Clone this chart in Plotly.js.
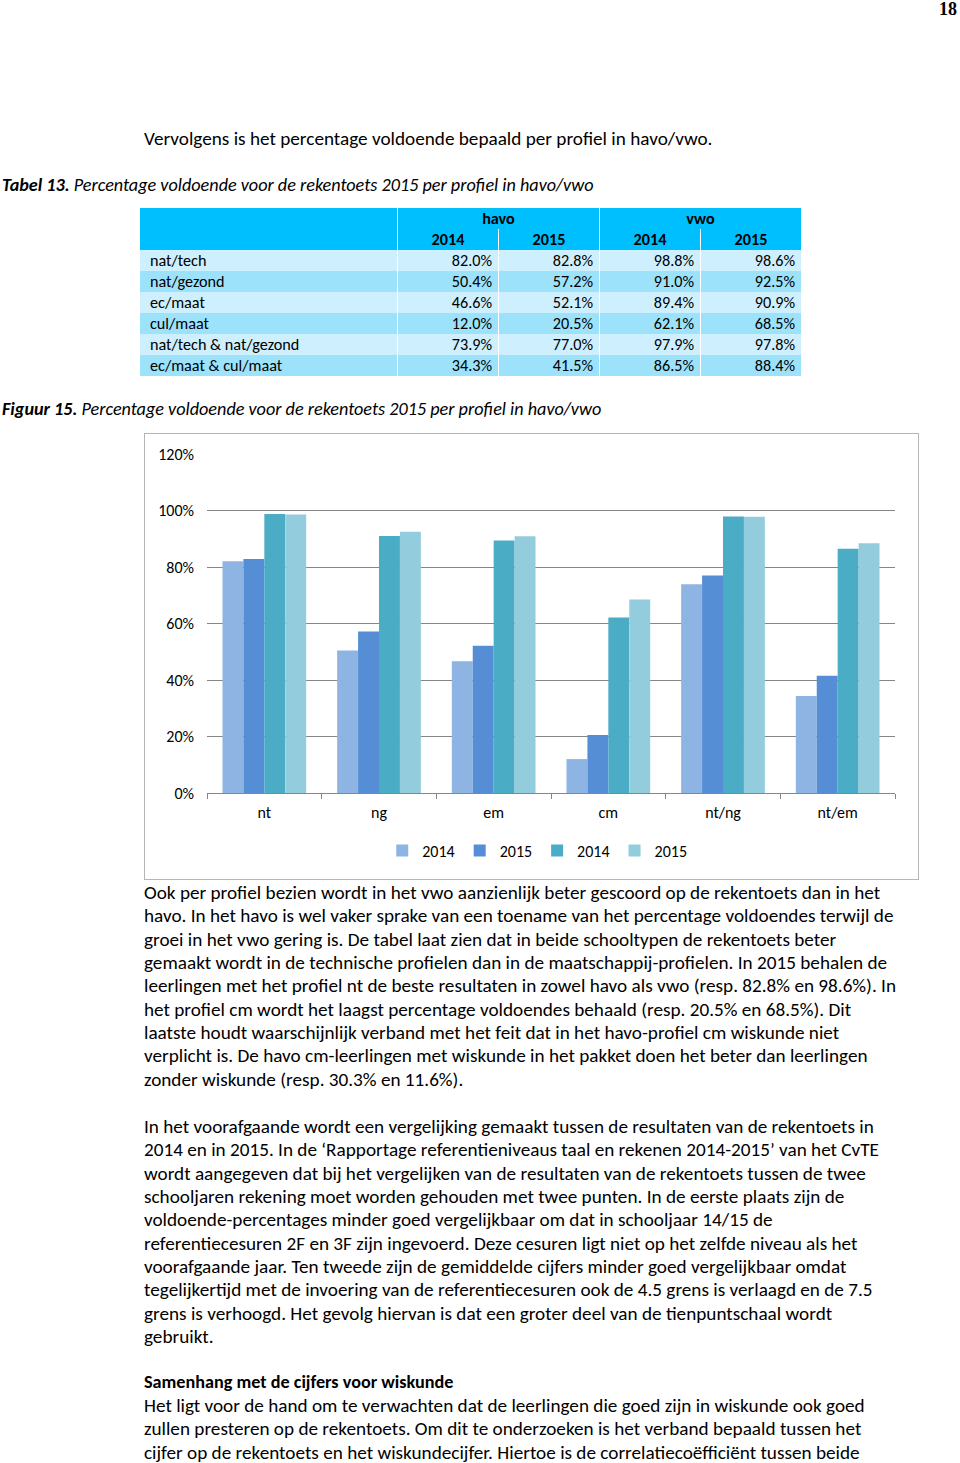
<!DOCTYPE html>
<html>
<head>
<meta charset="utf-8">
<script src="https://cdn.plot.ly/plotly-3.0.1.min.js"></script>
<style>
  html,body{margin:0;padding:0;background:#fff;}
  body{width:960px;height:1463px;position:relative;overflow:hidden;font-family:Carlito,Lato,"Open Sans",sans-serif;color:#000;}
  .ln{position:absolute;left:144px;white-space:nowrap;font-size:19.2px;line-height:23px;}
  .cap{font-size:18.2px;font-style:italic;left:2px;}
  .pg{position:absolute;right:3px;top:0px;font-family:"Liberation Serif","DejaVu Serif",serif;font-weight:bold;font-size:18px;line-height:18px;}
  table.t{position:absolute;left:139px;top:208px;border-collapse:collapse;table-layout:fixed;font-size:16.2px;}
  table.t td{height:21px;padding:0 6px;line-height:20px;border-left:1px solid #fff;border-right:1px solid #fff;box-sizing:border-box;}
  table.t tr.h td{background:#00BFFF;font-weight:bold;text-align:center;}
  table.t tr.a td{background:#CDEFFE;}
  table.t tr.b td{background:#9DE2FB;}
  table.t td.n{text-align:right;}
  #chart{position:absolute;left:144px;top:433px;width:773px;height:445px;border:1px solid #b5b5b5;}
</style>
</head>
<body>
<div class="pg">18</div>
<div class="ln" style="top:127px;">Vervolgens is het percentage voldoende bepaald per profiel in havo/vwo.</div>
<div class="ln cap" style="top:174px;"><b>Tabel 13.</b> Percentage voldoende voor de rekentoets 2015 per profiel in havo/vwo</div>
<table class="t" id="tbl"></table>
<div class="ln cap" style="top:398px;"><b>Figuur 15.</b> Percentage voldoende voor de rekentoets 2015 per profiel in havo/vwo</div>
<div id="chart"></div>
<div id="body"></div>
<script>
// ---- data ----
var profiles = ["nat/tech","nat/gezond","ec/maat","cul/maat","nat/tech & nat/gezond","ec/maat & cul/maat"];
var categories = ["nt","ng","em","cm","nt/ng","nt/em"];
var havo2014 = [82.0, 50.4, 46.6, 12.0, 73.9, 34.3];
var havo2015 = [82.8, 57.2, 52.1, 20.5, 77.0, 41.5];
var vwo2014  = [98.8, 91.0, 89.4, 62.1, 97.9, 86.5];
var vwo2015  = [98.6, 92.5, 90.9, 68.5, 97.8, 88.4];
var schoolTypes = ["havo","vwo"];
var years = ["2014","2015"];
var seriesNames = ["2014","2015","2014","2015"];
var seriesColors = ["#8EB4E3","#558ED5","#4BACC6","#93CDDD"];

// ---- table ----
var tbl = document.getElementById('tbl');
var cg = '<colgroup><col style="width:258px"><col style="width:101px"><col style="width:101px"><col style="width:101px"><col style="width:101px"></colgroup>';
var h = cg + '<tr class="h"><td></td><td colspan="2">'+schoolTypes[0]+'</td><td colspan="2">'+schoolTypes[1]+'</td></tr>';
h += '<tr class="h"><td></td><td>'+years[0]+'</td><td>'+years[1]+'</td><td>'+years[0]+'</td><td>'+years[1]+'</td></tr>';
for (var i=0;i<profiles.length;i++){
  h += '<tr class="'+(i%2===0?'a':'b')+'"><td style="padding-left:10px">'+profiles[i]+'</td>'+
    [havo2014[i],havo2015[i],vwo2014[i],vwo2015[i]].map(function(v){return '<td class="n">'+v.toFixed(1)+'%</td>';}).join('')+'</tr>';
}
tbl.innerHTML = h;

// ---- chart ----
var allSeries = [havo2014,havo2015,vwo2014,vwo2015];
var traces = allSeries.map(function(s,k){
  return {type:'bar', x:categories, y:s.map(function(v){return v/100;}), name:seriesNames[k],
          marker:{color:seriesColors[k], line:{width:0}}, hoverinfo:'none'};
});
var layout = {
  width:773, height:445,
  margin:{l:62,r:23,t:20,b:86, autoexpand:false},
  paper_bgcolor:'#fff', plot_bgcolor:'#fff',
  font:{family:'Carlito, Lato, "Open Sans", sans-serif', size:16, color:'#000'},
  barmode:'group', bargap:0.27, bargroupgap:0,
  showlegend:true,
  legend:{orientation:'h', x:0.48, xanchor:'center', y:-0.12, yanchor:'top', font:{size:16}, itemwidth:30,
          traceorder:'normal', tracegroupgap:0},
  xaxis:{type:'category', showline:true, linecolor:'#868686', linewidth:1, ticks:'outside', tickson:'boundaries',
         ticklen:5, tickcolor:'#868686', ticklabelstandoff:5, showgrid:false, zeroline:false, fixedrange:true},
  yaxis:{range:[0,1.2], dtick:0.2, tickformat:'.0%', showgrid:true, gridcolor:'#868686', gridwidth:1,
         zeroline:false, showline:false, ticks:'', ticklabelstandoff:12, fixedrange:true}
};
Plotly.newPlot('chart', traces, layout, {staticPlot:true, displayModeBar:false});

// ---- body text ----
var para1 = [
"Ook per profiel bezien wordt in het vwo aanzienlijk beter gescoord op de rekentoets dan in het",
"havo. In het havo is wel vaker sprake van een toename van het percentage voldoendes terwijl de",
"groei in het vwo gering is. De tabel laat zien dat in beide schooltypen de rekentoets beter",
"gemaakt wordt in de technische profielen dan in de maatschappij-profielen. In 2015 behalen de",
"leerlingen met het profiel nt de beste resultaten in zowel havo als vwo (resp. 82.8% en 98.6%). In",
"het profiel cm wordt het laagst percentage voldoendes behaald (resp. 20.5% en 68.5%). Dit",
"laatste houdt waarschijnlijk verband met het feit dat in het havo-profiel cm wiskunde niet",
"verplicht is. De havo cm-leerlingen met wiskunde in het pakket doen het beter dan leerlingen",
"zonder wiskunde (resp. 30.3% en 11.6%)."];
var para2 = [
"In het voorafgaande wordt een vergelijking gemaakt tussen de resultaten van de rekentoets in",
"2014 en in 2015. In de \u2018Rapportage referentieniveaus taal en rekenen 2014-2015\u2019 van het CvTE",
"wordt aangegeven dat bij het vergelijken van de resultaten van de rekentoets tussen de twee",
"schooljaren rekening moet worden gehouden met twee punten. In de eerste plaats zijn de",
"voldoende-percentages minder goed vergelijkbaar om dat in schooljaar 14/15 de",
"referentiecesuren 2F en 3F zijn ingevoerd. Deze cesuren ligt niet op het zelfde niveau als het",
"voorafgaande jaar. Ten tweede zijn de gemiddelde cijfers minder goed vergelijkbaar omdat",
"tegelijkertijd met de invoering van de referentiecesuren ook de 4.5 grens is verlaagd en de 7.5",
"grens is verhoogd. Het gevolg hiervan is dat een groter deel van de tienpuntschaal wordt",
"gebruikt."];
var heading = "Samenhang met de cijfers voor wiskunde";
var para3 = [
"Het ligt voor de hand om te verwachten dat de leerlingen die goed zijn in wiskunde ook goed",
"zullen presteren op de rekentoets. Om dit te onderzoeken is het verband bepaald tussen het",
"cijfer op de rekentoets en het wiskundecijfer. Hiertoe is de correlatiecoëfficiënt tussen beide"];
var bodyDiv = document.getElementById('body');
function addLines(lines, top, bold){
  lines.forEach(function(t,i){
    var d = document.createElement('div');
    d.className='ln';
    d.style.top = (top + i*23.35) + 'px';
    if (bold) { d.style.fontWeight='bold'; d.style.fontSize='18.2px'; }
    d.textContent = t;
    bodyDiv.appendChild(d);
  });
}
addLines(para1, 881, false);
addLines(para2, 1115, false);
addLines([heading], 1371, true);
addLines(para3, 1394, false);
</script>
</body>
</html>
